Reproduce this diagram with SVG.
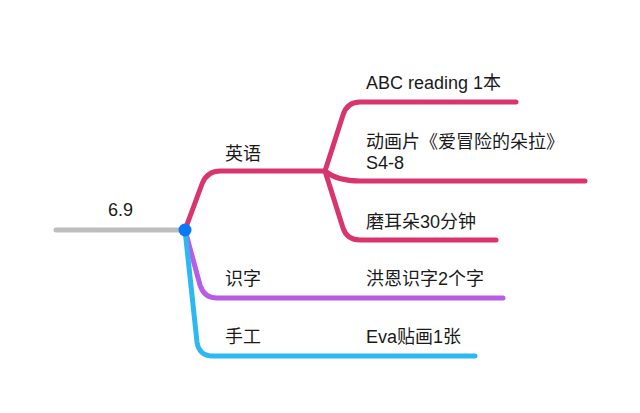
<svg xmlns="http://www.w3.org/2000/svg" width="640" height="413" viewBox="0 0 640 413">
<style>
.l{fill:none;stroke-width:5;stroke-linecap:round;stroke-linejoin:round}
.pk{stroke:#d8356c}
.pu{stroke:#b85ce6}
.bl{stroke:#2db8f2}
.gy{stroke:#bdbdbd}
text{font-family:"Liberation Sans","Noto Sans CJK SC",sans-serif;font-size:18px;fill:#1a1a1a}
</style>
<rect width="640" height="413" fill="#fff"/>
<g id="connectors">
<path class="l gy" d="M56,230 L185,230"/>
<path class="l pk" d="M185,230 L202,184 Q207,171 220,171 L325,171"/>
<path class="l pk" d="M325,171 L343,115 Q347,102 360,102 L516,102"/>
<path class="l pk" d="M325,171 Q337,181 360,181 L585,181"/>
<path class="l pk" d="M325,171 L343,228 Q347,240 360,240 L496,240"/>
<path class="l pu" d="M185,230 L200,285 Q204,298 217,298 L503,298"/>
<path class="l bl" d="M185,230 L197,342 Q199,356 213,356 L475,356"/>
</g>
<g id="root"><text x="108" y="216">6.9</text><circle cx="185" cy="230" r="6.5" fill="#0a78f8"/></g>
<g id="n-english"><text x="225" y="160">英语</text></g>
<g id="n-abc"><text x="366" y="89">ABC reading 1本</text></g>
<g id="n-dora"><text x="366" y="148">动画片《爱冒险的朵拉》</text><text x="366" y="169">S4-8</text></g>
<g id="n-ear"><text x="366" y="228">磨耳朵30分钟</text></g>
<g id="n-literacy"><text x="225" y="285">识字</text></g>
<g id="n-hongen"><text x="366" y="285">洪恩识字2个字</text></g>
<g id="n-craft"><text x="225" y="343">手工</text></g>
<g id="n-eva"><text x="366" y="343">Eva贴画1张</text></g>
</svg>
